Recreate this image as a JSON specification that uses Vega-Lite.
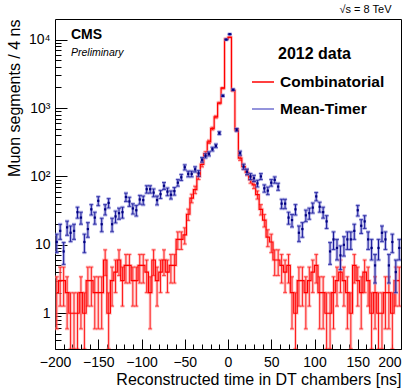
{
"$schema":"https://vega.github.io/schema/vega-lite/v6.json",
"width":346,"height":330,
"autosize":{"type":"none"},
"padding":{"left":55,"top":19,"right":9,"bottom":41},
"background":"white",
"config":{"view":{"stroke":"black","strokeWidth":1},"font":"Liberation Sans","axis":{"labelFont":"Liberation Sans","titleFont":"Liberation Sans","labelColor":"black","titleColor":"black","tickColor":"black","grid":false,"domain":false}},
"title":{"text":"√s = 8 TeV","anchor":"end","fontSize":11,"fontWeight":"normal","font":"Liberation Sans","offset":4,"dx":-10,"color":"black"},
"datasets":{"h":[
{"t":-198,"c":2,"ce":1.41,"m":11,"me":3.32},
{"t":-194,"c":3,"ce":1.73,"m":16,"me":4},
{"t":-190,"c":3,"ce":1.73,"m":8,"me":2.83},
{"t":-186,"c":2,"ce":1.41,"m":18,"me":4.24},
{"t":-182,"c":1,"ce":0.99,"m":15,"me":3.87},
{"t":-178,"c":1,"ce":0.99,"m":16,"me":4},
{"t":-174,"c":1,"ce":0.99,"m":30,"me":5.48},
{"t":-170,"c":2,"ce":1.41,"m":25,"me":5},
{"t":-166,"c":1,"ce":0.99,"m":11,"me":3.32},
{"t":-162,"c":3,"ce":1.73,"m":17,"me":4.12},
{"t":-158,"c":3,"ce":1.73,"m":33,"me":5.74},
{"t":-154,"c":2,"ce":1.41,"m":25,"me":5},
{"t":-150,"c":2,"ce":1.41,"m":44,"me":6.63},
{"t":-146,"c":2,"ce":1.41,"m":20,"me":4.47},
{"t":-142,"c":6,"ce":2.45,"m":33,"me":5.74},
{"t":-138,"c":1,"ce":0.99,"m":41,"me":6.4},
{"t":-134,"c":3,"ce":1.73,"m":20,"me":4.47},
{"t":-130,"c":4,"ce":2,"m":26,"me":5.1},
{"t":-126,"c":6,"ce":2.45,"m":29,"me":5.39},
{"t":-122,"c":3,"ce":1.73,"m":30,"me":5.48},
{"t":-118,"c":5,"ce":2.24,"m":50,"me":7.07},
{"t":-114,"c":5,"ce":2.24,"m":43,"me":6.56},
{"t":-110,"c":3,"ce":1.73,"m":34,"me":5.83},
{"t":-106,"c":3,"ce":1.73,"m":32,"me":5.66},
{"t":-102,"c":5,"ce":2.24,"m":46,"me":6.78},
{"t":-98,"c":5,"ce":2.24,"m":45,"me":6.71},
{"t":-94,"c":4,"ce":2,"m":65,"me":8.06},
{"t":-90,"c":2,"ce":1.41,"m":65,"me":8.06},
{"t":-86,"c":6,"ce":2.45,"m":58,"me":7.62},
{"t":-82,"c":3,"ce":1.73,"m":45,"me":6.71},
{"t":-78,"c":4,"ce":2,"m":55,"me":7.42},
{"t":-74,"c":6,"ce":2.45,"m":73,"me":8.54},
{"t":-70,"c":4,"ce":2,"m":60,"me":7.75},
{"t":-66,"c":5,"ce":2.24,"m":54,"me":7.35},
{"t":-62,"c":5,"ce":2.24,"m":61,"me":7.81},
{"t":-58,"c":12,"ce":3.46,"m":81,"me":9},
{"t":-54,"c":12,"ce":3.46,"m":97,"me":9.85},
{"t":-50,"c":14,"ce":3.74,"m":136,"me":11.66},
{"t":-46,"c":28,"ce":5.29,"m":109,"me":10.44},
{"t":-42,"c":48,"ce":6.93,"m":109,"me":10.44},
{"t":-38,"c":64,"ce":8,"m":127,"me":11.27},
{"t":-34,"c":100,"ce":10,"m":111,"me":10.54},
{"t":-30,"c":150,"ce":12.25,"m":175,"me":13.23},
{"t":-26,"c":215,"ce":14.66,"m":200,"me":14.14},
{"t":-22,"c":320,"ce":17.89,"m":214,"me":14.63},
{"t":-18,"c":500,"ce":22.36,"m":251,"me":15.84},
{"t":-14,"c":740,"ce":27.2,"m":280,"me":16.73},
{"t":-10,"c":1180,"ce":34.35,"m":430,"me":20.74},
{"t":-6,"c":1950,"ce":44.16,"m":1510,"me":38.86},
{"t":-2,"c":10200,"ce":101,"m":10000,"me":100},
{"t":2,"c":10800,"ce":103.92,"m":12000,"me":109.54},
{"t":6,"c":1800,"ce":42.43,"m":1850,"me":43.01},
{"t":10,"c":480,"ce":21.91,"m":480,"me":21.91},
{"t":14,"c":185,"ce":13.6,"m":219,"me":14.8},
{"t":18,"c":139,"ce":11.79,"m":139,"me":11.79},
{"t":22,"c":114,"ce":10.68,"m":117,"me":10.82},
{"t":26,"c":89,"ce":9.43,"m":100,"me":10},
{"t":30,"c":75,"ce":8.66,"m":94,"me":9.7},
{"t":34,"c":54,"ce":7.35,"m":79,"me":8.89},
{"t":38,"c":33,"ce":5.74,"m":100,"me":10},
{"t":42,"c":23,"ce":4.8,"m":67,"me":8.19},
{"t":46,"c":13,"ce":3.61,"m":62,"me":7.87},
{"t":50,"c":11,"ce":3.32,"m":81,"me":9},
{"t":54,"c":6,"ce":2.45,"m":89,"me":9.43},
{"t":58,"c":6,"ce":2.45,"m":71,"me":8.43},
{"t":62,"c":5,"ce":2.24,"m":40,"me":6.32},
{"t":66,"c":4,"ce":2,"m":40,"me":6.32},
{"t":70,"c":5,"ce":2.24,"m":25,"me":5},
{"t":74,"c":2,"ce":1.41,"m":23,"me":4.8},
{"t":78,"c":1,"ce":0.99,"m":33,"me":5.74},
{"t":82,"c":3,"ce":1.73,"m":15,"me":3.87},
{"t":86,"c":3,"ce":1.73,"m":17,"me":4.12},
{"t":90,"c":2,"ce":1.41,"m":27,"me":5.2},
{"t":94,"c":3,"ce":1.73,"m":29,"me":5.39},
{"t":98,"c":4,"ce":2,"m":35,"me":5.92},
{"t":102,"c":5,"ce":2.24,"m":51,"me":7.14},
{"t":106,"c":2,"ce":1.41,"m":36,"me":6},
{"t":110,"c":2,"ce":1.41,"m":30,"me":5.48},
{"t":114,"c":1,"ce":0.99,"m":22,"me":4.69},
{"t":118,"c":1,"ce":0.99,"m":8,"me":2.83},
{"t":122,"c":2,"ce":1.41,"m":12,"me":3.46},
{"t":126,"c":3,"ce":1.73,"m":9,"me":3},
{"t":130,"c":4,"ce":2,"m":7,"me":2.65},
{"t":134,"c":3,"ce":1.73,"m":10,"me":3.16},
{"t":138,"c":2,"ce":1.41,"m":12,"me":3.46},
{"t":142,"c":1,"ce":0.99,"m":12,"me":3.46},
{"t":146,"c":5,"ce":2.24,"m":16,"me":4},
{"t":150,"c":3,"ce":1.73,"m":32,"me":5.66},
{"t":154,"c":2,"ce":1.41,"m":19,"me":4.36},
{"t":158,"c":4,"ce":2,"m":22,"me":4.69},
{"t":162,"c":3,"ce":1.73,"m":12,"me":3.46},
{"t":166,"c":1,"ce":0.99,"m":9,"me":3},
{"t":170,"c":2,"ce":1.41,"m":5,"me":2.24},
{"t":174,"c":1,"ce":0.99,"m":9,"me":3},
{"t":178,"c":1,"ce":0.99,"m":15,"me":3.87},
{"t":182,"c":2,"ce":1.41,"m":12,"me":3.46},
{"t":186,"c":2,"ce":1.41,"m":5,"me":2.24},
{"t":190,"c":1,"ce":0.99,"m":11,"me":3.32},
{"t":194,"c":3,"ce":1.73,"m":4,"me":2},
{"t":198,"c":3,"ce":1.73,"m":9,"me":3}
]},
"layer":[
{"data":{"name":"h"},"mark":{"type":"line","interpolate":"step","color":"#ff9999","strokeWidth":3,"opacity":0.5,"clip":true},
 "encoding":{
  "x":{"field":"t","type":"quantitative","scale":{"domain":[-200,200],"nice":false,"zero":false},
   "axis":{"orient":"bottom","values":[-200,-150,-100,-50,0,50,100,150,200],"tickSize":-10,"labelPadding":16,"labelFontSize":14,"labelFlush":false,"labelOverlap":false,"format":"d","labelAlign":{"condition":{"test":"datum.value == 200","value":"right"},"value":"center"},"title":"Reconstructed time in DT chambers [ns]","titleAnchor":"end","titleFontSize":16,"titleFontWeight":"normal","titlePadding":2}},
  "y":{"field":"c","type":"quantitative","scale":{"type":"log","domain":[0.3,20000],"nice":false,"clamp":true},
   "axis":{"orient":"left","values":[1,10,100,1000,10000],"tickSize":-12,"labelPadding":17,"labelFontSize":14,"labelExpr":"datum.value==1?'1':datum.value==10?'10':datum.value==100?'10²':datum.value==1000?'10³':'10⁴'","title":"Muon segments / 4 ns","titleAnchor":"end","titleFontSize":16,"titleFontWeight":"normal","titlePadding":6}}}},
{"data":{"name":"h"},"mark":{"type":"errorbar","ticks":{"size":4},"color":"#ff9999","thickness":3,"opacity":0.5,"clip":true},
 "encoding":{"x":{"field":"t","type":"quantitative","axis":null},"y":{"field":"c","type":"quantitative","axis":null},"yError":{"field":"ce"}}},
{"data":{"name":"h"},"mark":{"type":"errorbar","ticks":{"size":4},"color":"#ff1a1a","thickness":1,"clip":true},
 "encoding":{"x":{"field":"t","type":"quantitative","axis":null},"y":{"field":"c","type":"quantitative","axis":null},"yError":{"field":"ce"}}},
{"data":{"name":"h"},"mark":{"type":"line","interpolate":"step","strokeWidth":1.2,"clip":true},
 "encoding":{"x":{"field":"t","type":"quantitative","axis":null},"y":{"field":"c","type":"quantitative","axis":null},
  "color":{"datum":"Combinatorial","scale":{"domain":["Combinatorial","Mean-Timer"],"range":["#ff0000","#7070d0"]},
   "legend":{"orient":"none","legendX":196,"legendY":51,"title":null,"symbolType":"stroke","symbolSize":484,"symbolStrokeWidth":1.5,"labelFontSize":15.5,"labelFont":"Liberation Sans","labelFontWeight":"bold","labelColor":"black","labelOffset":5,"rowPadding":6,"padding":0}}}},
{"data":{"name":"h"},"mark":{"type":"errorbar","ticks":{"size":4},"color":"#8c8cdc","thickness":3,"opacity":0.6,"clip":true},
 "encoding":{"x":{"field":"t","type":"quantitative","axis":null},"y":{"field":"m","type":"quantitative","axis":null},"yError":{"field":"me"}}},
{"data":{"name":"h"},"mark":{"type":"errorbar","ticks":{"size":4},"color":"#8c8cdc","thickness":3,"opacity":0.6,"clip":true},
 "encoding":{"y":{"field":"m","type":"quantitative","axis":null},"x":{"field":"t","type":"quantitative","axis":null},"xError":{"value":2}}},
{"data":{"name":"h"},"mark":{"type":"errorbar","ticks":{"size":4},"color":"#1a1a9a","thickness":1,"clip":true},
 "encoding":{"x":{"field":"t","type":"quantitative","axis":null},"y":{"field":"m","type":"quantitative","axis":null},"yError":{"field":"me"}}},
{"data":{"name":"h"},"mark":{"type":"errorbar","ticks":{"size":4},"color":"#1a1a9a","thickness":1,"clip":true},
 "encoding":{"y":{"field":"m","type":"quantitative","axis":null},"x":{"field":"t","type":"quantitative","axis":null},"xError":{"value":2}}},
{"data":{"name":"h"},"mark":{"type":"point","shape":"square","size":5,"filled":true,"color":"#000080","opacity":1,"clip":true},
 "encoding":{
  "x":{"field":"t","type":"quantitative","axis":{"orient":"bottom","values":[-190,-180,-170,-160,-140,-130,-120,-110,-90,-80,-70,-60,-40,-30,-20,-10,10,20,30,40,60,70,80,90,110,120,130,140,160,170,180,190],"tickSize":-5,"labels":false,"title":null}},
  "y":{"field":"m","type":"quantitative","axis":{"orient":"left","values":[0.4,0.5,0.6,0.7,0.8,0.9,2,3,4,5,6,7,8,9,20,30,40,50,60,70,80,90,200,300,400,500,600,700,800,900,2000,3000,4000,5000,6000,7000,8000,9000],"tickSize":-6,"labels":false,"title":null}}}},
{"data":{"values":[{"t":-181.5,"v":11670,"s":"CMS"}]},"mark":{"type":"text","align":"left","baseline":"middle","font":"Liberation Sans","fontWeight":"bold","fontSize":14,"color":"black"},
 "encoding":{"x":{"field":"t","type":"quantitative","axis":null},"y":{"field":"v","type":"quantitative","axis":null},"text":{"field":"s"}}},
{"data":{"values":[{"t":-181.5,"v":6370,"s":"Preliminary"}]},"mark":{"type":"text","align":"left","baseline":"middle","font":"Liberation Sans","fontStyle":"italic","fontSize":10.5,"color":"black"},
 "encoding":{"x":{"field":"t","type":"quantitative","axis":null},"y":{"field":"v","type":"quantitative","axis":null},"text":{"field":"s"}}},
{"data":{"values":[{"t":57.8,"v":6150,"s":"2012 data"}]},"mark":{"type":"text","align":"left","baseline":"middle","font":"Liberation Sans","fontWeight":"bold","fontSize":16,"color":"black"},
 "encoding":{"x":{"field":"t","type":"quantitative","axis":null},"y":{"field":"v","type":"quantitative","axis":null},"text":{"field":"s"}}}
],
"resolve":{"axis":{"x":"independent","y":"independent"}}
}
